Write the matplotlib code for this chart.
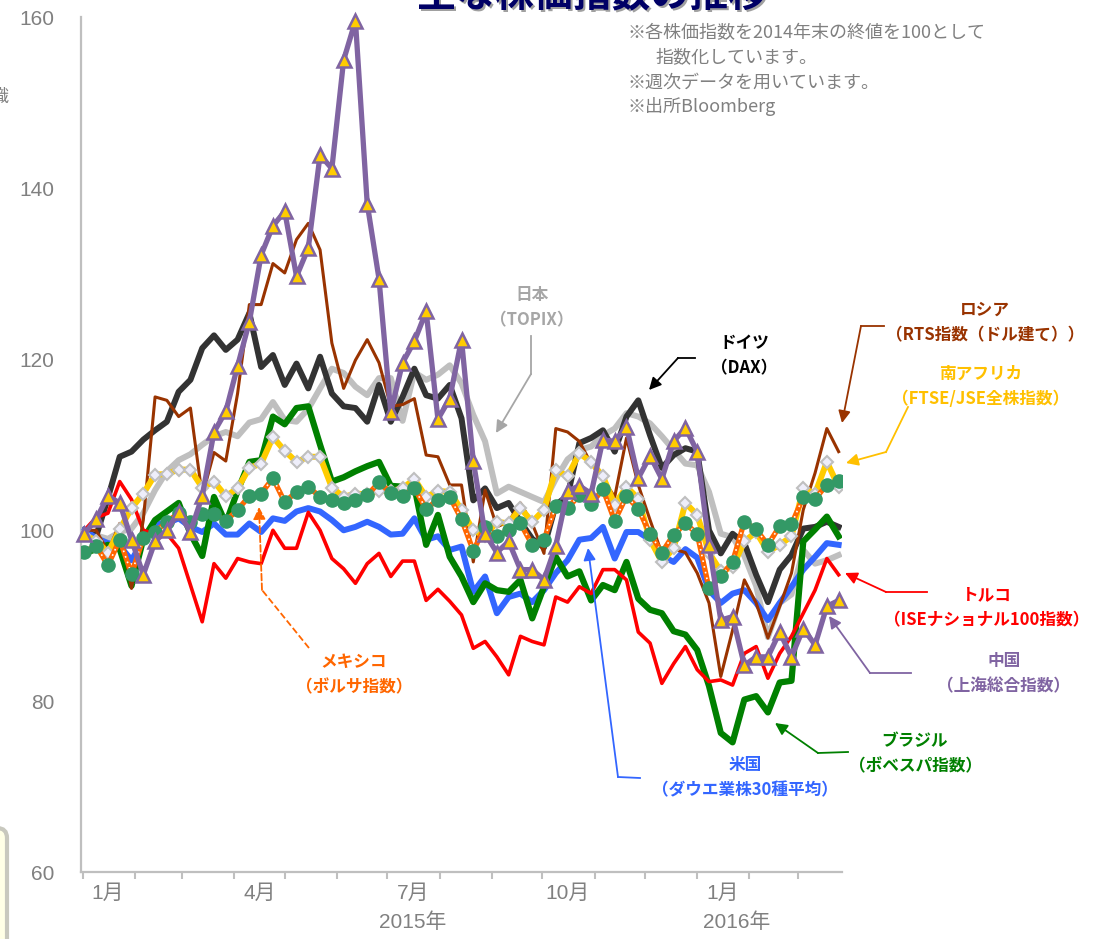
import matplotlib
matplotlib.use('Agg')
import matplotlib.pyplot as plt
import matplotlib.dates as mdates
from matplotlib.patches import FancyBboxPatch
import pandas as pd

plt.rcParams['font.family'] = ['Noto Sans CJK JP', 'DejaVu Sans']

# weekly closes, 2014 year-end close = 100
dates = pd.date_range('2015-01-02', periods=65, freq='7D')

japan = [100.0, 99.4, 99.0, 99.8, 100.2, 102.0, 104.7, 106.9, 108.2, 108.9,
         110.0, 111.0, 111.5, 111.0, 112.6, 113.0, 115.0, 112.9, 112.7, 114.2,
         116.6, 118.9, 118.4, 116.8, 115.8, 117.8, 117.8, 112.8, 118.5, 117.6,
         118.2, 119.3, 117.2, 113.5, 110.4, 104.3, 105.1, 104.5, 103.9, 103.3,
         106.0, 108.3, 109.4, 109.8, 111.1, 111.9, 113.7, 113.3, 112.5, 111.0,
         109.4, 107.8, 107.6, 104.5, 99.6, 99.2, 97.0, 93.5, 87.5, 91.5,
         92.5, 97.7, 96.1, 96.5, 97.1]
germany = [100.0, 99.3, 103.8, 108.6, 109.2, 110.6, 111.7, 112.7, 116.2, 117.6,
           121.3, 122.8, 121.1, 122.3, 125.4, 119.1, 120.5, 117.0, 119.5, 116.6,
           120.3, 116.0, 114.5, 114.3, 112.7, 117.0, 112.7, 115.6, 118.9, 115.8,
           115.4, 117.0, 113.1, 103.5, 104.9, 102.6, 103.2, 101.0, 99.0, 98.0,
           103.0, 104.0, 110.2, 110.8, 111.7, 109.2, 113.3, 115.2, 111.1, 107.3,
           108.8, 109.6, 109.2, 100.0, 97.3, 99.6, 98.5, 94.8, 91.6, 95.4,
           97.1, 100.2, 100.4, 101.0, 100.4]
usa = [100.0, 99.1, 98.5, 98.2, 96.5, 98.9, 100.8, 100.8, 101.4, 100.4,
       99.8, 100.8, 99.5, 99.5, 100.8, 99.8, 101.4, 101.1, 102.2, 102.6,
       102.2, 101.2, 100.0, 100.4, 101.0, 100.4, 99.5, 99.6, 101.4, 98.9,
       99.3, 97.7, 98.1, 92.8, 94.6, 90.3, 92.2, 92.6, 91.6, 93.0,
       95.0, 96.5, 98.9, 99.1, 100.4, 96.7, 99.8, 99.8, 98.9, 97.0,
       96.3, 97.8, 96.8, 93.0, 91.5, 92.6, 93.0, 91.5, 89.5, 91.5,
       93.4, 95.4, 96.9, 98.5, 98.3]
brazil = [97.3, 97.8, 98.3, 97.8, 93.5, 99.0, 101.2, 102.2, 103.2, 99.6,
          97.0, 103.9, 100.8, 104.6, 108.0, 108.2, 113.3, 112.4, 114.3, 114.5,
          110.0, 105.7, 106.2, 106.9, 107.5, 108.0, 105.2, 105.1, 105.1, 98.3,
          101.8, 96.9, 94.6, 91.6, 93.8, 93.0, 92.8, 94.2, 89.7, 93.4,
          96.9, 94.6, 95.2, 91.8, 93.6, 93.0, 96.3, 92.0, 90.7, 90.3,
          88.2, 87.8, 86.0, 81.8, 76.3, 75.2, 80.2, 80.6, 78.7, 82.2,
          82.4, 98.7, 100.1, 101.6, 99.3]
turkey = [100.0, 101.5, 102.0, 105.7, 103.6, 100.0, 99.6, 99.6, 97.9, 93.6,
          89.3, 96.1, 94.4, 96.7, 96.3, 96.1, 100.0, 97.9, 97.9, 102.1,
          100.0, 96.7, 95.5, 93.8, 96.1, 97.3, 94.6, 96.4, 96.4, 91.8,
          93.1, 91.7, 90.1, 86.2, 87.0, 85.2, 83.1, 87.6, 87.0, 86.6,
          92.2, 91.6, 93.4, 92.6, 95.4, 95.4, 94.2, 88.1, 86.8, 82.1,
          84.4, 86.4, 83.7, 82.3, 82.5, 81.9, 85.6, 86.4, 82.7, 85.6,
          87.6, 90.3, 93.0, 96.7, 94.8]
russia = [100.0, 100.0, 97.5, 100.8, 93.2, 101.2, 115.6, 115.2, 113.3, 114.3,
          104.0, 109.1, 108.1, 116.0, 126.4, 126.4, 131.2, 130.1, 134.0, 135.9,
          132.8, 121.9, 116.6, 119.9, 122.3, 119.6, 114.5, 114.7, 115.4, 108.8,
          108.6, 105.3, 105.3, 96.3, 104.7, 100.4, 101.0, 103.2, 100.8, 97.3,
          111.9, 111.5, 110.4, 107.8, 106.0, 103.9, 110.8, 105.3, 101.2, 97.3,
          97.8, 97.4, 95.0, 91.5, 82.9, 88.3, 94.2, 91.5, 87.4, 91.1,
          95.0, 102.4, 106.7, 111.9, 109.2]
south_africa = [99.5, 98.8, 97.4, 100.1, 102.6, 104.3, 106.5, 106.6, 107.1, 107.1,
                105.0, 105.7, 104.0, 104.9, 107.3, 107.8, 110.9, 109.3, 108.0, 108.6,
                108.6, 105.0, 103.9, 104.3, 104.2, 104.6, 104.6, 104.9, 106.0, 103.9,
                104.6, 104.5, 102.4, 100.0, 99.3, 101.0, 100.8, 102.6, 101.0, 102.4,
                107.1, 106.3, 109.0, 108.0, 106.3, 103.0, 105.1, 103.7, 98.9, 96.3,
                97.9, 103.2, 101.8, 97.4, 95.2, 95.7, 98.7, 99.8, 97.5, 98.3,
                99.3, 104.9, 104.3, 108.0, 105.1]
mexico = [97.5, 98.2, 95.9, 98.9, 94.9, 99.1, 99.8, 101.0, 102.0, 101.0,
          101.9, 101.9, 101.1, 102.4, 104.0, 104.3, 106.1, 103.3, 104.5, 105.1,
          103.9, 103.5, 103.2, 103.5, 104.1, 105.6, 104.4, 104.0, 104.9, 102.5,
          103.6, 103.9, 101.3, 97.6, 100.4, 99.3, 100.0, 100.8, 98.3, 98.9,
          102.8, 102.6, 104.1, 103.1, 104.8, 101.1, 104.0, 102.5, 99.6, 97.4,
          99.5, 100.8, 99.6, 93.2, 94.6, 96.3, 101.0, 100.1, 98.3, 100.5,
          100.7, 103.9, 103.7, 105.3, 105.8]
china = [99.6, 101.3, 104.0, 103.2, 98.9, 94.8, 98.7, 100.0, 102.1, 99.8,
         104.0, 111.5, 113.9, 119.2, 124.4, 132.2, 135.6, 137.3, 129.7, 133.0,
         143.9, 142.3, 155.0, 159.6, 138.2, 129.4, 113.8, 119.6, 122.1, 125.6,
         113.0, 115.4, 122.3, 108.1, 99.6, 97.4, 98.7, 95.4, 95.4, 94.2,
         98.2, 104.6, 105.2, 104.3, 110.6, 110.4, 112.1, 106.1, 108.7, 106.0,
         110.4, 112.0, 109.2, 98.3, 89.5, 89.9, 84.2, 85.2, 85.2, 88.1,
         85.2, 88.5, 86.6, 91.1, 91.8]

y_ticks = [60, 80, 100, 120, 140, 160]
month_label_dates = ['2015-01-16', '2015-04-16', '2015-07-16', '2015-10-16', '2016-01-16']
month_labels = ['1月', '4月', '7月', '10月', '1月']

W, H = 1100, 939
fig = plt.figure(figsize=(W / 100, H / 100), dpi=100)
fig.patch.set_facecolor('white')
ax = fig.add_axes([81 / W, 1 - 872.3 / H, 761 / W, 855 / H])

ax.plot(dates, japan, color='#BFBFBF', lw=4.3, zorder=1)
ax.plot(dates, germany, color='#333333', lw=4.3, zorder=2)
ax.plot(dates, usa, color='#3366FF', lw=4.3, zorder=3)
ax.plot(dates, brazil, color='#008000', lw=4.5, zorder=4)
ax.plot(dates, turkey, color='#FF0000', lw=2.6, zorder=5)
ax.plot(dates, russia, color='#993300', lw=2.2, zorder=6)
ax.plot(dates, south_africa, color='#FFCC00', lw=4.3, marker='D', ms=6.5,
        mfc='#EEEEFA', mec='#BFBFBF', mew=1.5, zorder=7)
ax.plot(dates, mexico, color='#FF6600', lw=3.8, zorder=8)
ax.plot(dates, mexico, color='white', lw=1.2, linestyle=(0, (1, 2.5)), zorder=8)
ax.plot(dates, mexico, linestyle='none', marker='o', ms=9.5,
        mfc='#339966', mec='#339966', zorder=8)
ax.plot(dates, china, color='#8064A2', lw=3.8, marker='^', ms=10,
        mfc='#FFCC00', mec='#8064A2', mew=1.8, zorder=9, clip_on=False)

ax.set_ylim(60, 160)
ax.set_xlim(pd.Timestamp('2014-12-31'), pd.Timestamp('2016-03-27'))
ax.set_yticks(y_ticks)
ax.set_xticks(pd.to_datetime(month_label_dates))
ax.set_xticklabels(month_labels)
ax.xaxis.set_minor_locator(mdates.MonthLocator())
ax.tick_params(axis='y', length=0, pad=19, labelsize=15, labelcolor='#808080')
ax.tick_params(axis='x', which='major', length=0, pad=8, labelsize=15, labelcolor='#808080')
ax.tick_params(axis='x', which='minor', length=5, width=1.5, color='#BFBFBF', direction='out')
for lab in ax.get_yticklabels() + ax.get_xticklabels():
    lab.set_family(['Liberation Sans', 'Noto Sans CJK JP'])
for side in ['top', 'right']:
    ax.spines[side].set_visible(False)
for side in ['left', 'bottom']:
    ax.spines[side].set_color('#BFBFBF')
    ax.spines[side].set_linewidth(1.6)

# overlay in pixel space for the callouts
ov = fig.add_axes([0, 0, 1, 1], zorder=5)
ov.set_xlim(0, W)
ov.set_ylim(H, 0)
ov.axis('off')
ov.patch.set_alpha(0)

ov.text(413, 922, '2015年', ha='center', va='center', fontsize=15, color='#808080',
        family=['Liberation Sans', 'Noto Sans CJK JP'])
ov.text(737, 922, '2016年', ha='center', va='center', fontsize=15, color='#808080',
        family=['Liberation Sans', 'Noto Sans CJK JP'])

# title, mostly cut off at the top as in the source slide
ov.text(594, 9, '主な株価指数の推移', ha='center', va='baseline', fontsize=28,
        fontweight='bold', color='#A0A0A0')
ov.text(592, 7, '主な株価指数の推移', ha='center', va='baseline', fontsize=28,
        fontweight='bold', color='#000066')

notes = [(628, 33, '※各株価指数を2014年末の終値を100として'),
         (655, 57, '指数化しています。'),
         (628, 83, '※週次データを用いています。'),
         (628, 107, '※出所Bloomberg')]
for x, y, s in notes:
    ov.text(x, y, s, ha='left', va='center', fontsize=13, color='#808080')

ov.text(8, 97, '識', ha='right', va='center', fontsize=13, color='#808080')
ov.add_patch(FancyBboxPatch((-40, 828), 47, 200, boxstyle='round,pad=0,rounding_size=10',
                            facecolor='#FFFFE6', edgecolor='#C8C8BE', lw=3))


def callout(lines, color, pos, path, tip, ls='-'):
    x, y = pos
    ov.text(x, y, lines[0], ha='center', va='center', fontsize=12, fontweight='bold', color=color)
    ov.text(x, y + 25, lines[1], ha='center', va='center', fontsize=12, fontweight='bold', color=color)
    px = [p[0] for p in path]
    py = [p[1] for p in path]
    ov.plot(px, py, color=color, lw=1.3, linestyle=ls)
    ov.annotate('', xy=tip, xytext=path[-1],
                arrowprops=dict(arrowstyle='-|>', color=color, lw=1.3, linestyle=ls,
                                mutation_scale=18, shrinkA=0, shrinkB=0))


callout(['日本', '（TOPIX）'], '#A6A6A6', (532, 295), [(531, 336), (531, 374)], (496, 433))
callout(['ドイツ', '（DAX）'], '#000000', (744, 343), [(695, 358), (678, 358)], (649, 390))
callout(['ロシア', '（RTS指数（ドル建て））'], '#993300', (985, 310), [(884, 326), (861, 326)], (842, 423))
callout(['南アフリカ', '（FTSE/JSE全株指数）'], '#FFC000', (981, 374), [(908, 407), (886, 452)], (846, 463))
callout(['トルコ', '（ISEナショナル100指数）'], '#FF0000', (987, 595), [(927, 592), (886, 592)], (845, 573))
callout(['中国', '（上海総合指数）'], '#8064A2', (1004, 661), [(911, 673), (870, 673)], (829, 616))
callout(['ブラジル', '（ボベスパ指数）'], '#008000', (915, 741), [(848, 752), (818, 753)], (775, 723))
callout(['米国', '（ダウエ業株30種平均）'], '#3366FF', (745, 765), [(640, 778), (618, 777)], (588, 548))
callout(['メキシコ', '（ボルサ指数）'], '#FF6600', (354, 662), [(309, 648), (262, 590)], (259, 507), ls='--')

fig.savefig('out.png', dpi=100, facecolor='white')
